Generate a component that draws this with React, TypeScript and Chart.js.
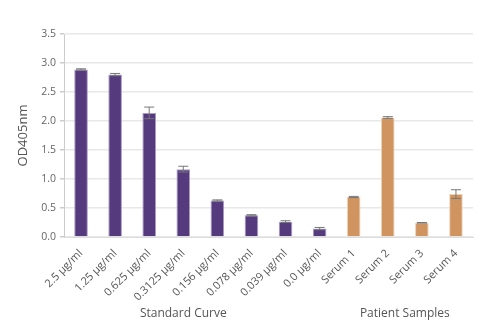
import React, { useEffect, useRef } from "react";
import { Chart, registerables } from "chart.js";

Chart.register(...registerables);

const categories = [
  "2.5 µg/ml", "1.25 µg/ml", "0.625 µg/ml", "0.3125 µg/ml", "0.156 µg/ml",
  "0.078 µg/ml", "0.039 µg/ml", "0.0 µg/ml", "Serum 1", "Serum 2", "Serum 3", "Serum 4",
];
const values = [2.89, 2.8, 2.14, 1.17, 0.63, 0.375, 0.265, 0.145, 0.69, 2.06, 0.245, 0.74];
const errors = [0.01, 0.02, 0.1, 0.05, 0.01, 0.01, 0.015, 0.02, 0.01, 0.015, 0.005, 0.075];
const groups = [
  { label: "Standard Curve", from: 0, to: 6 },
  { label: "Patient Samples", from: 8, to: 11 },
];
const purple = "#553b7e";
const purpleEdge = "#a99cc4";
const orange = "#d09461";
const orangeEdge = "#f0d2b8";
const FONT = "'Open Sans', sans-serif";

const extrasPlugin = {
  id: "extras",
  afterDatasetsDraw(chart: any) {
    const { ctx } = chart;
    const x = chart.scales.x;
    const y = chart.scales.y;
    ctx.save();
    ctx.strokeStyle = "#777777";
    ctx.lineWidth = 1;
    values.forEach((v, i) => {
      const cx = x.getPixelForValue(i);
      const top = y.getPixelForValue(v + errors[i]);
      const bot = y.getPixelForValue(v - errors[i]);
      ctx.beginPath();
      ctx.moveTo(cx, top);
      ctx.lineTo(cx, bot);
      ctx.moveTo(cx - 5, top);
      ctx.lineTo(cx + 5, top);
      ctx.moveTo(cx - 5, bot);
      ctx.lineTo(cx + 5, bot);
      ctx.stroke();
    });
    ctx.restore();
  },
  afterDraw(chart: any) {
    const { ctx } = chart;
    const x = chart.scales.x;
    ctx.save();
    ctx.fillStyle = "#555555";
    ctx.font = `12px ${FONT}`;
    ctx.textAlign = "center";
    ctx.textBaseline = "middle";
    groups.forEach((g) => {
      const cx = (x.getPixelForValue(g.from) + x.getPixelForValue(g.to)) / 2;
      ctx.fillText(g.label, cx, 314);
    });
    ctx.restore();
  },
};

export default function App() {
  const ref = useRef<HTMLCanvasElement>(null);
  useEffect(() => {
    if (!ref.current) return;
    const chart = new Chart(ref.current, {
      type: "bar",
      data: {
        labels: categories,
        datasets: [
          {
            data: values,
            backgroundColor: values.map((_, i) => (i < 8 ? purple : orange)),
            borderColor: values.map((_, i) => (i < 8 ? purpleEdge : orangeEdge)),
            borderWidth: 1,
            barPercentage: 0.4,
            categoryPercentage: 1,
          },
        ],
      },
      options: {
        responsive: false,
        animation: false,
        layout: { padding: { left: 15, right: 27, top: 34, bottom: 0 } },
        plugins: { legend: { display: false }, tooltip: { enabled: false } },
        scales: {
          x: {
            grid: { display: false },
            border: { display: true, color: "#dddddd", width: 1 },
            ticks: {
              minRotation: 45,
              maxRotation: 45,
              autoSkip: false,
              color: "#555555",
              font: { family: FONT, size: 11 },
              padding: 2,
            },
            afterFit: (s: any) => {
              s.height = 96;
            },
          },
          y: {
            min: 0,
            max: 3.5,
            ticks: {
              stepSize: 0.5,
              color: "#666666",
              font: { family: FONT, size: 10.5 },
              callback: (v: any) => Number(v).toFixed(1),
              padding: 4,
            },
            grid: { color: "#e8e8e8", lineWidth: 1.5, tickLength: 4, tickColor: "#cccccc" },
            border: { display: true, color: "#cccccc" },
            title: {
              display: true,
              text: "OD405nm",
              color: "#555555",
              font: { family: FONT, size: 13 },
              padding: { top: 0, bottom: 6 },
            },
            afterFit: (s: any) => {
              s.width = 49;
            },
          },
        },
      },
      plugins: [extrasPlugin],
    });
    return () => chart.destroy();
  }, []);
  return (
    <div style={{ position: "absolute", left: 0, top: 0, width: 500, height: 333, background: "#fff" }}>
      <canvas ref={ref} width={500} height={333} />
    </div>
  );
}
